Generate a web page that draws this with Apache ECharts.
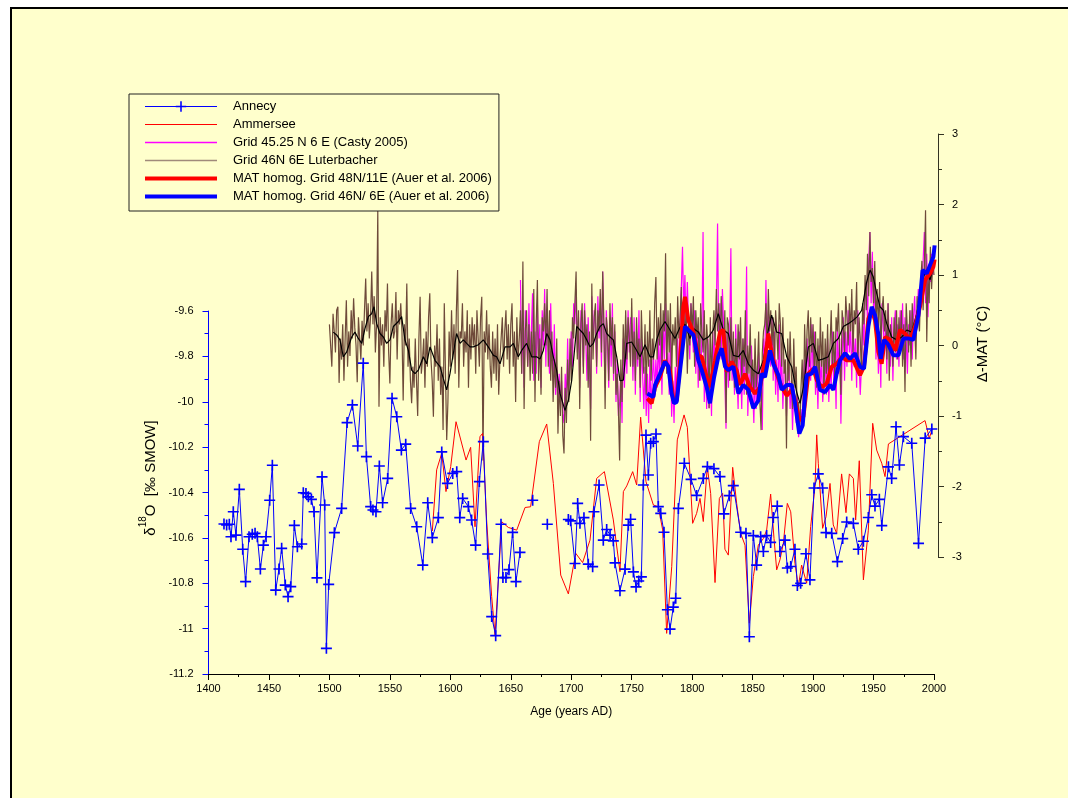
<!DOCTYPE html>
<html><head><meta charset="utf-8">
<script src="https://cdn.jsdelivr.net/npm/echarts@6/dist/echarts.min.js"></script>
<style>
html,body{margin:0;padding:0;background:#fff;width:1068px;height:798px;overflow:hidden}
#frame{position:absolute;left:10px;top:7px;width:1100px;height:820px;border-left:2px solid #000;border-top:2px solid #000;background:#FFFFCC}
#chart{position:absolute;left:0;top:0;width:1068px;height:798px}
</style></head>
<body><div id="frame"></div><div id="chart"></div>
<script>
// ---------- DATA ----------
// Annecy d18O (left axis); null = gap
const annecyYears = [1412.8,1415.0,1417.2,1418.6,1420.5,1422.7,1425.5,1428.3,1430.7,1433.5,1436.2,1438.5,1440.4,1442.9,1445.4,1447.6,1450.6,1452.8,1455.6,1458.3,1460.5,1463.5,1465.8,1468.0,1471.0,1473.5,1477.1,1478.4,1480.6,1482.6,1485.1,1487.3,1489.7,1493.9,1496.1,1497.5,1499.4,1504.1,1510.1,1514.6,1519.0,1523.4,1528.0,1530.6,1534.1,1536.0,1538.5,1541.3,1544.0,1548.2,1551.8,1555.7,1559.5,1563.1,1567.2,1572.2,1577.2,1581.3,1585.1,1590.1,1592.9,1597.6,1602.0,1605.3,1607.8,1610.2,1614.9,1617.6,1620.9,1624.0,1627.3,1630.9,1634.2,1637.5,1641.9,1643.5,1646.0,1648.5,1651.5,1654.3,1657.6,1663,1668.1,1674,1680.2,1689,1697.6,1699.5,1703.1,1705.3,1707.2,1710.5,1714.1,1717.7,1718.8,1723.0,1726.5,1729.3,1732.1,1734.8,1736.2,1740.3,1744.5,1747.2,1749.1,1751.4,1753.6,1755.8,1758.0,1759.6,1761.8,1763.8,1765.7,1767.9,1770.1,1772.0,1774.0,1776.7,1779.5,1781.7,1784.4,1786.4,1788.6,1793.5,1799.1,1803.7,1809.2,1812.6,1818.0,1823.0,1826.3,1830.7,1834.0,1840.1,1844.5,1847.3,1850.6,1853.3,1856.6,1858.9,1861.6,1864.9,1867.1,1870.4,1872.6,1876.8,1878.7,1881.5,1885.0,1887.0,1889.7,1894.1,1897.4,1900.8,1904.3,1907.9,1910.7,1915.4,1920.1,1924.5,1927.8,1933.3,1937.4,1941.6,1945.7,1948.5,1951.2,1954.8,1956.8,1962.3,1965.0,1968.6,1971.4,1974.7,1981.6,1987.2,1992.7,1998.2];
const annecyVals = [-10.539,-10.543,-10.54,-10.595,-10.485,-10.588,-10.386,-10.65,-10.793,-10.595,-10.584,-10.58,-10.595,-10.737,-10.632,-10.595,-10.434,-10.28,-10.83,-10.737,-10.646,-10.808,-10.859,-10.815,-10.545,-10.639,-10.627,-10.401,-10.404,-10.419,-10.43,-10.485,-10.776,-10.331,-10.455,-11.087,-10.805,-10.577,-10.47,-10.092,-10.014,-10.195,-9.83,-10.242,-10.462,-10.477,-10.485,-10.283,-10.445,-10.338,-9.985,-10.066,-10.213,-10.187,-10.47,-10.551,-10.72,-10.445,-10.599,-10.511,-10.221,-10.36,-10.316,-10.308,-10.511,-10.426,-10.462,-10.521,-10.632,-10.352,-10.176,-10.671,-10.947,-11.031,-10.54,-10.775,-10.775,-10.74,-10.576,-10.793,-10.664,null,-10.434,null,-10.54,null,-10.519,-10.525,-10.713,-10.448,-10.536,-10.511,-10.716,-10.727,-10.485,-10.367,-10.61,-10.563,-10.588,-10.613,-10.71,-10.833,-10.738,-10.544,-10.518,-10.75,-10.816,-10.79,-10.772,-10.367,-10.147,-10.323,-10.183,-10.176,-10.142,-10.462,-10.492,-10.575,-10.917,-11.002,-10.905,-10.866,-10.47,-10.271,-10.342,-10.413,-10.338,-10.286,-10.295,-10.33,-10.494,-10.414,-10.37,-10.575,-10.58,-11.036,-10.59,-10.72,-10.595,-10.66,-10.59,-10.62,-10.51,-10.46,-10.66,-10.61,-10.733,-10.726,-10.65,-10.81,-10.8,-10.67,-10.785,-10.38,-10.318,-10.38,-10.577,-10.58,-10.705,-10.603,-10.53,-10.536,-10.65,-10.615,-10.51,-10.41,-10.46,-10.43,-10.546,-10.287,-10.338,-10.11,-10.279,-10.154,-10.183,-10.624,-10.16,-10.12];
// Ammersee (left axis)
const ammerseeYears = [1585.1,1588.7,1592.9,1596.4,1600.3,1604.7,1613.0,1616.8,1620.4,1624.5,1626.7,1630.0,1634.2,1637.0,1642.5,1648.0,1654.9,1661.8,1666.4,1673.6,1679.7,1685.2,1691.3,1697.6,1703.7,1709.4,1715.5,1721.0,1727.4,1734.8,1740.3,1743.1,1745.9,1750.8,1754.1,1757.4,1761.8,1767.9,1772.0,1775.6,1778.9,1783.1,1787.7,1793.3,1796.0,1800.4,1803.7,1806.5,1809.2,1812.5,1815.3,1818.9,1822.5,1825.2,1827.1,1829.9,1833.5,1836.8,1840.1,1843.7,1847.3,1850.6,1854.7,1858.9,1861.6,1864.9,1867.7,1869.9,1872.6,1875.4,1878.7,1881.5,1885.0,1887.8,1890.5,1894.7,1898.0,1901.6,1903.0,1904.3,1907.9,1910.7,1914.0,1916.7,1919.5,1923.6,1927.2,1930.0,1933.3,1935.2,1938.2,1941.6,1945.7,1949.3,1952.6,1956.8,1959.5,1962.3,1992.6,1996.1,1998.5];
const ammerseeVals = [-10.57,-10.3,-10.227,-10.396,-10.286,-10.088,-10.257,-10.201,-10.551,-10.154,-10.139,-10.521,-10.859,-11.028,-10.529,-10.554,-10.566,-10.466,-10.463,-10.176,-10.098,-10.36,-10.764,-10.847,-10.668,-10.709,-10.61,-10.338,-10.308,-10.521,-10.749,-10.396,-10.371,-10.308,-10.367,-10.068,-10.352,-10.455,-10.463,-10.565,-11.021,-10.727,-10.168,-10.058,-10.113,-10.536,-10.492,-10.426,-10.528,-10.286,-10.404,-10.797,-10.426,-10.404,-10.65,-10.676,-10.289,-10.448,-10.58,-10.632,-10.976,-10.771,-10.632,-10.603,-10.566,-10.407,-10.603,-10.741,-10.697,-10.624,-10.448,-10.485,-10.712,-10.815,-10.72,-10.8,-10.55,-10.374,-10.146,-10.271,-10.558,-10.507,-10.36,-10.543,-10.58,-10.318,-10.489,-10.318,-10.338,-10.521,-10.26,-10.785,-10.566,-10.095,-10.213,-10.271,-10.33,-10.186,-10.083,-10.161,-10.12];
// Casty 2005 grid, annual from 1658 (right axis)
const castyStart = 1658;
const castyVals = [0.93,-0.4,
0.3,-0.6,0.5,0.1,-0.3,0.6,-0.2,0.2,0.74,-0.5,
0.2,-0.4,0.6,-0.2,0.3,-0.6,0.5,0.0,0.8,-0.3,
0.5,0.0,-0.4,0.6,-0.2,-0.5,0.3,-0.7,-0.3,-0.9,
-0.4,-0.8,-0.5,-0.97,-1.1,-0.4,-0.8,0.1,-0.6,-0.2,
0.2,-0.3,0.6,0.3,0.8,-0.1,0.4,-0.6,0.5,0.2,
-0.3,0.6,0.1,-0.5,0.4,-0.2,-0.9,0.7,0.0,0.5,
0.3,-0.4,0.7,0.1,0.5,-0.3,1.05,0.2,-0.6,0.5,
0.0,-0.6,0.4,-0.3,0.6,-0.5,0.2,-0.8,-0.2,-1.0,
-0.8,-0.4,-1.1,0.1,-0.6,0.3,-0.4,0.5,-0.1,0.4,
0.3,-0.5,0.4,-0.7,0.2,-0.3,0.5,-0.8,0.1,-0.4,
-0.9,-0.3,-1.0,-0.4,-1.1,-0.2,-0.9,-0.5,-0.1,-0.7,
-0.2,-0.6,0.1,-0.5,0.2,-0.7,0.3,-0.2,0.6,-0.4,
-0.1,-0.7,0.2,-1.01,-0.5,-1.1,-0.3,-0.8,0.1,-0.4,
0.3,0.8,1.40,0.5,1.0,0.2,0.9,0.3,-0.2,0.6,
0.6,-0.1,0.5,-0.4,0.3,-0.6,0.2,-0.5,0.1,1.61,
-0.8,-0.2,-0.9,0.1,-0.89,-0.4,-1.0,0.2,-0.3,0.4,
0.5,1.73,0.0,0.6,-0.2,0.8,0.3,-0.5,-1.18,0.2,
-0.6,0.1,1.38,-0.5,0.0,-0.7,0.3,-0.4,-0.9,0.2,
-0.3,-0.9,0.1,-0.7,-0.2,1.12,-1.0,-0.4,-0.8,0.0,
-0.6,-1.1,-0.3,-0.9,-0.5,-0.1,-0.8,-0.3,-1.2,0.1,
-0.4,0.93,-0.2,0.5,0.1,-0.3,0.4,-0.5,0.2,-0.7,
-0.2,-0.8,0.3,-0.6,-0.1,-0.9,-0.4,-0.2,-1.0,-0.5,
-0.3,-0.9,-0.5,-1.2,-0.6,-0.8,-1.1,-0.7,-1.3,-1.1,
-0.9,-1.2,-0.5,-0.2,-0.6,0.1,-0.4,-0.1,-0.5,0.3,
-0.4,0.2,-0.7,-0.3,-0.9,0.0,-0.6,-0.2,-0.8,-0.4,
-0.2,-0.7,0.1,-0.8,-0.3,-0.6,0.2,-0.5,-0.1,-0.9,
0.3,-0.4,0.1,-1.11,-0.2,0.4,-0.5,0.2,-0.3,0.5,
-0.1,0.3,-0.5,0.4,-0.3,0.1,-0.6,0.5,-0.2,-0.7,
-0.3,0.4,0.0,0.7,0.9,0.3,1.2,1.61,0.6,1.33,
0.5,0.9,-0.2,0.4,-0.4,0.2,-0.6,0.6,0.3,-0.1,
0.3,-0.4,0.6,0.1,-0.3,0.4,-0.5,0.2,0.5,-0.2,
0.3,-0.3,0.5,0.0,0.6,-0.2,0.4,0.1,-0.4,0.3,
0.0,0.5,-0.2,0.4,0.7,0.1,0.3,0.8,0.4,0.6,
0.9,1.2,1.61,0.6,1.3,0.4,1.1,0.9,1.3,1.0,1.1];
// Luterbacher grid, annual from 1500 (right axis)
const lutStart = 1500;
const lutVals = [0.3,0.0,-0.3,0.45,0.2,-0.1,0.5,0.55,-0.53,0.1,
-0.2,0.3,-0.5,0.1,0.64,-0.3,0.2,-0.15,0.5,0.1,
0.67,0.25,0.0,-0.52,0.4,0.1,-0.2,0.35,0.0,0.5,
0.95,0.2,0.6,0.1,0.4,1.05,0.3,0.7,-0.1,0.3,
1.92,-0.87,0.4,0.0,0.3,-0.3,0.5,0.2,0.88,-0.1,
-0.54,0.3,0.6,0.1,0.2,0.76,-0.2,0.5,0.3,0.6,
0.2,-0.78,0.3,0.0,0.88,-0.3,0.1,-0.5,-0.82,-0.3,
-0.6,0.1,-0.5,-1.0,0.1,0.69,-0.4,-0.2,0.1,-0.6,
0.2,-0.3,0.4,0.74,-0.2,-0.5,-1.01,0.0,-0.3,0.3,
-0.5,0.1,-0.7,-0.3,-1.2,0.6,-0.4,-1.34,-0.8,0.2,
-0.3,0.5,-0.2,0.3,-0.4,0.5,1.07,-0.6,0.2,0.1,
0.6,-0.3,0.2,-0.1,0.5,-0.6,0.3,-0.2,0.4,0.0,
0.3,-0.4,0.5,0.1,-0.3,0.4,0.69,-1.63,0.2,-0.1,
0.5,-0.2,0.3,-0.3,-0.6,0.2,-0.4,0.1,-0.5,0.3,
-0.7,-0.2,0.1,0.4,-0.3,0.2,0.5,-0.2,0.3,-0.4,
0.3,0.6,-0.3,0.2,-0.8,0.4,-0.2,0.1,0.5,-0.4,
1.19,-0.9,0.2,0.5,-0.3,0.3,-0.5,0.2,-0.4,0.8,
-0.8,0.3,0.93,-0.5,0.1,-0.7,0.4,0.2,0.6,0.0,
0.8,-0.3,0.5,-0.5,0.2,-0.8,-0.2,-0.6,0.1,-1.25,
-0.5,-1.0,-0.3,-1.28,-1.53,-0.6,-1.1,-0.2,-0.8,0.1,
-0.5,0.4,0.1,0.6,1.05,-0.2,0.5,-0.9,0.3,0.6,
-0.4,0.5,0.0,0.3,-0.6,0.2,-1.35,0.88,-0.2,0.4,
0.6,-0.3,0.5,0.2,0.8,-0.1,1.05,0.3,-0.9,0.4,
0.2,-0.5,0.6,0.0,0.4,-0.4,0.3,-0.7,-0.4,-0.9,
-1.63,-0.2,-0.8,0.3,-0.3,0.5,-0.2,0.4,0.1,-0.3,
0.67,-0.3,0.2,-0.5,0.4,-0.2,0.1,-0.6,0.5,-0.1,
-0.4,0.3,-0.7,0.2,-0.3,0.5,-0.5,0.1,-0.2,0.6,
0.97,-0.2,0.4,0.0,0.6,-0.3,0.5,0.2,1.31,-0.4,
0.5,-0.1,0.6,-0.5,0.3,0.0,0.4,-0.3,0.7,0.1,
0.4,0.83,-0.2,0.6,0.1,0.5,-0.4,0.3,0.0,0.6,
0.2,0.7,-0.3,0.5,0.1,0.4,-0.5,0.6,0.2,-0.1,
0.5,-0.4,0.3,0.0,-0.89,0.4,-0.6,0.2,0.5,0.0,
0.8,0.2,0.6,-0.1,0.7,0.3,-0.2,0.5,-1.1,0.4,
0.3,-0.5,0.4,-0.3,0.2,-0.6,0.1,-0.4,0.3,-0.2,
0.4,-0.5,0.1,-0.3,0.5,-0.7,0.0,-0.4,0.3,-0.6,
-0.2,-0.7,0.1,-0.6,-0.3,0.2,-0.8,-1.2,-0.1,0.2,
0.3,0.6,-0.1,0.8,0.2,0.5,0.0,0.4,-0.3,0.5,
0.2,-0.2,0.6,0.3,-0.3,0.4,-0.4,-0.2,-1.46,0.1,
-0.5,0.2,-0.4,-0.9,0.1,-0.6,-0.3,-1.0,-0.8,-1.25,
-0.6,-0.2,-0.9,0.3,-0.4,0.2,0.5,-0.3,0.4,-0.1,
0.3,-0.4,0.2,-0.6,0.1,-0.5,0.4,-0.3,0.2,-0.7,
0.1,-0.4,0.3,-0.6,0.0,0.5,-0.3,0.2,-0.5,0.4,
0.2,0.6,-0.2,-0.7,0.5,0.3,-0.1,0.7,0.4,0.0,
0.6,0.2,0.8,-0.1,0.5,0.3,0.9,-0.3,0.4,0.1,
-0.4,0.6,0.3,1.0,0.5,1.3,0.7,1.61,0.9,1.1,
0.6,1.2,0.3,0.8,0.2,0.9,-0.1,0.5,0.7,0.2,
0.5,-0.2,0.6,-0.5,0.3,0.1,-0.3,0.4,-0.1,0.5,
-0.2,0.4,0.0,0.5,-0.3,0.3,-0.66,0.6,0.2,-0.1,
0.5,-0.3,0.6,0.1,0.3,-0.2,0.7,0.4,0.2,0.9,
1.2,0.5,1.1,1.92,0.05,1.0,0.6,1.4,0.8,1.2,1.0];
// smoothed Luterbacher (black, right axis)
const smoothLut = [[1503.2,0.19],[1506,0.15],[1508.7,0.08],[1511.5,-0.16],[1514.3,-0.09],[1518.4,0.12],[1521.1,0.19],[1523.9,0.1],[1526.7,0.03],[1529.4,0.24],[1532.2,0.41],[1534.9,0.45],[1536.9,0.55],[1539.1,0.31],[1541.8,0.17],[1544.6,0.12],[1547.3,0.03],[1550.1,0.08],[1552.9,0.27],[1557,0.34],[1559.7,0.41],[1562.5,0.08],[1565.3,-0.07],[1568,-0.35],[1570.8,-0.4],[1573.5,-0.35],[1577.7,-0.16],[1580.4,-0.26],[1583.2,-0.02],[1587.3,-0.21],[1591.5,-0.3],[1594.2,-0.47],[1597,-0.63],[1599.7,-0.4],[1602.5,-0.11],[1605.2,0.17],[1608,0.03],[1610.8,0.08],[1613.5,0.03],[1616.3,-0.02],[1619,-0.02],[1623.2,0.01],[1627.3,0.08],[1631.4,-0.02],[1635.6,-0.14],[1638.3,-0.16],[1641.1,-0.26],[1645.2,-0.02],[1649.4,-0.02],[1652.1,0.03],[1656.2,-0.16],[1659,-0.07],[1663.1,0.03],[1667.3,-0.16],[1671.4,-0.16],[1674.2,-0.19],[1676.9,-0.07],[1679.7,0.17],[1682.4,0.08],[1685.2,-0.16],[1687.9,-0.35],[1690.7,-0.68],[1694.8,-0.92],[1697.6,-0.78],[1700.4,-0.49],[1704.5,0.27],[1707.2,0.22],[1710,0.17],[1712.8,0.08],[1715.5,-0.02],[1718.3,0.03],[1721,0.17],[1723.8,0.27],[1726.5,0.31],[1729.3,0.17],[1732.1,0.12],[1734.8,0.08],[1737.6,-0.16],[1740.3,-0.5],[1743.1,-0.49],[1745.8,0.03],[1750,0.05],[1754.1,-0.07],[1756.9,-0.16],[1761,0.01],[1765.1,-0.16],[1767.9,-0.16],[1770.6,0.08],[1773.4,0.22],[1777.5,0.34],[1781.7,0.22],[1785.8,0.1],[1789.9,0.26],[1794.1,0.3],[1798.2,0.1],[1801,0.24],[1805.1,0.19],[1809.2,0.08],[1813.4,0.12],[1817.5,0.22],[1821.6,0.45],[1825.8,0.22],[1829.9,0.17],[1834,-0.14],[1838.2,-0.16],[1842.3,-0.07],[1846.4,-0.26],[1850.6,-0.35],[1854.7,-0.4],[1858.9,-0.21],[1863,0.22],[1865.7,0.43],[1869.9,0.19],[1874,0.17],[1878.2,-0.16],[1882.3,-0.3],[1886.4,-0.66],[1889.2,-0.82],[1892,-0.59],[1896.1,-0.02],[1900.2,0.03],[1904.3,-0.21],[1908.5,-0.19],[1912.6,-0.16],[1916.8,0.03],[1920.9,0.1],[1925,0.27],[1929.2,0.31],[1933.3,0.36],[1936.6,0.41],[1940.2,0.5],[1944.3,0.9],[1947.1,1.07],[1949.8,0.97],[1952.6,0.74],[1955.3,0.55],[1958.1,0.5],[1960.9,0.31],[1965,0.12],[1969.1,0.08],[1973.3,0.12],[1977.4,0.22],[1981.5,0.19],[1985.7,0.45],[1988.4,0.69],[1991.2,0.97],[1993.9,1.07],[1996.7,0.93],[1999.5,1.12]];
// MAT homogenised (Auer et al. 2006), right axis
const mat48 = [[1762.9,-0.75],[1766.5,-0.82],[1769.3,-0.59],[1773.4,-0.45],[1777.5,-0.21],[1781.7,-0.35],[1784.4,-0.78],[1787.2,-0.78],[1790,-0.21],[1792.7,0.55],[1794.1,0.69],[1796.8,0.36],[1801,0.19],[1805.1,-0.14],[1807.9,-0.16],[1812,-0.45],[1814.7,-0.59],[1818.9,-0.21],[1823,0.19],[1825.8,0.22],[1828.5,-0.37],[1832.7,-0.23],[1836.8,-0.35],[1839.6,-0.56],[1843.7,-0.4],[1847.8,-0.59],[1852,-0.68],[1856.1,-0.59],[1860.2,-0.21],[1863,0.17],[1865.8,-0.11],[1869.9,-0.4],[1874,-0.59],[1878.2,-0.71],[1882.3,-0.63],[1885.1,-0.78],[1888.6,-1.06],[1892,-1.01],[1896.1,-0.4],[1900.2,-0.33],[1903,-0.49],[1907.1,-0.59],[1911.2,-0.54],[1915.4,-0.3],[1919.5,-0.26],[1923.7,-0.16],[1927.8,-0.21],[1933.3,-0.21],[1938.8,-0.42],[1942.1,-0.3],[1945.7,0.38],[1948.5,0.5],[1951.2,0.36],[1954,-0.09],[1956.7,-0.26],[1959.5,0.12],[1963.6,0.08],[1967.8,-0.07],[1971.9,0.22],[1976,0.17],[1980.2,0.08],[1984.3,0.27],[1988.4,0.55],[1992.6,0.93],[1996.7,1.02],[1999.5,1.12],[2000.5,1.22]];
const mat46 = [[1762.9,-0.68],[1767.9,-0.73],[1769.3,-0.56],[1773.4,-0.4],[1777.5,-0.23],[1780.3,-0.3],[1783,-0.68],[1785,-0.82],[1787.2,-0.8],[1790,-0.35],[1794.1,0.27],[1796.8,0.22],[1801,0.15],[1805.1,-0.21],[1807.9,-0.35],[1812,-0.59],[1814.7,-0.82],[1818.1,-0.45],[1821.6,-0.16],[1824.4,-0.04],[1827.2,-0.3],[1829.9,-0.35],[1834,-0.3],[1838.2,-0.68],[1842.3,-0.56],[1846.5,-0.63],[1850.6,-0.89],[1854.7,-0.78],[1857.5,-0.4],[1860.2,-0.45],[1864.4,-0.07],[1867.1,-0.26],[1871.3,-0.42],[1874,-0.63],[1878.2,-0.56],[1882.3,-0.56],[1885.1,-0.82],[1888.6,-1.25],[1891.4,-1.13],[1894.7,-0.42],[1898.8,-0.4],[1901.6,-0.3],[1905.7,-0.63],[1909.9,-0.66],[1914,-0.56],[1916.8,-0.63],[1919.5,-0.4],[1922.3,-0.21],[1926.4,-0.11],[1930.5,-0.19],[1934.7,-0.11],[1938.8,-0.3],[1942.1,-0.33],[1945.7,0.27],[1948.5,0.55],[1951.2,0.43],[1954,0.15],[1955.9,-0.19],[1958.7,0.08],[1962.3,0.01],[1966.4,-0.14],[1970.5,-0.14],[1974.7,0.1],[1978.8,0.1],[1982.9,0.08],[1987.1,0.43],[1990.6,1.07],[1994,1.02],[1996.7,1.14],[1999.5,1.26],[2000.5,1.42]];
// axis ticks
const xTicks = {min:1400, max:2000, step:50};
const leftTicks = {min:-11.2, max:-9.6, step:0.2};
const rightTicks = {min:-3, max:3, step:1};
const names = ['Annecy','Ammersee','Grid 45.25 N 6 E (Casty 2005)','Grid 46N 6E Luterbacher','MAT homog. Grid 48N/11E (Auer et al. 2006)','MAT homog. Grid 46N/ 6E (Auer et al. 2006)'];

// ---------- BUILD ----------
const F = "'Liberation Sans', Arial, sans-serif";
const pairs = (ys, vs) => ys.map((y, i) => [y, vs[i] === null ? '-' : vs[i]]);
const annual = (start, vs) => vs.map((v, i) => [start + i, v]);
const cross = 'path://M0,8.5H20V11.5H0Z M8.5,0H11.5V20H8.5Z';
const legendWidths = [1, 1, 1.5, 1.5, 4, 4];
const legendColors = ['#0000FF', '#FF0000', '#FF00FF', '#A08A7A', '#FF0000', '#0000FF'];

const chart = echarts.init(document.getElementById('chart'), null, {renderer:'canvas'});
chart.setOption({
  animation:false,
  backgroundColor:'transparent',
  textStyle:{fontFamily:F},
  grid:[
    {left:208.5, right:134, top:311, bottom:124},
    {left:208.5, right:130, top:134, bottom:241}
  ],
  xAxis:[
    {gridIndex:0, type:'value', min:xTicks.min, max:xTicks.max, interval:xTicks.step,
     axisLine:{lineStyle:{color:'#000', width:1}}, axisTick:{length:6, lineStyle:{color:'#000'}},
     minorTick:{show:true, splitNumber:2, length:3, lineStyle:{color:'#000'}},
     axisLabel:{fontSize:11, color:'#000', margin:9, fontFamily:F, formatter:v => String(v)}, splitLine:{show:false},
     name:'Age (years AD)', nameLocation:'middle', nameGap:32, nameTextStyle:{fontSize:12, color:'#000', fontFamily:F}},
    {gridIndex:1, type:'value', min:1400, max:2003.3, show:false, splitLine:{show:false}}
  ],
  yAxis:[
    {gridIndex:0, type:'value', position:'left', min:leftTicks.min, max:leftTicks.max, interval:leftTicks.step,
     axisLine:{show:true, lineStyle:{color:'#0000FF', width:1}}, axisTick:{show:true, length:6, lineStyle:{color:'#0000FF'}},
     minorTick:{show:true, splitNumber:2, length:4, lineStyle:{color:'#0000FF'}},
     axisLabel:{fontSize:11, color:'#000', margin:15, fontFamily:F, formatter:v => String(+(+v).toFixed(1))},
     splitLine:{show:false}},
    {gridIndex:1, type:'value', position:'right', min:rightTicks.min, max:rightTicks.max, interval:rightTicks.step,
     axisLine:{show:true, lineStyle:{color:'#333322', width:1}}, axisTick:{show:true, length:6, lineStyle:{color:'#333322'}},
     minorTick:{show:true, splitNumber:2, length:4, lineStyle:{color:'#333322'}},
     axisLabel:{fontSize:11, color:'#000', margin:14, fontFamily:F},
     splitLine:{show:false}}
  ],
  legend:{
    data:names.map((n, i) => i === 0
      ? {name:n, lineStyle:{width:legendWidths[i], color:legendColors[i]}}
      : {name:n, itemStyle:{opacity:0}, lineStyle:{width:legendWidths[i], color:legendColors[i]}}),
    orient:'vertical', left:129, top:94,
    padding:[6,7,8,14], itemGap:5, itemWidth:72, itemHeight:13,
    backgroundColor:'#FFFFCC', borderColor:'#222', borderWidth:1, borderRadius:0,
    textStyle:{fontSize:13, color:'#000', fontFamily:F, padding:[0,0,0,11]},
    selectedMode:false
  },
  graphic:[
    {type:'text', x:148, y:478, rotation:Math.PI/2,
     style:{text:'{a|δ}{s|18}{a|O  [‰ SMOW]}', align:'center', verticalAlign:'middle',
            rich:{a:{fontSize:15, fontFamily:F, fill:'#000', lineHeight:20, verticalAlign:'bottom'},
                  s:{fontSize:10, fontFamily:F, fill:'#000', lineHeight:20, verticalAlign:'top'}}}},
    {type:'text', x:983, y:344, rotation:Math.PI/2,
     style:{text:'Δ-MAT (°C)', align:'center', verticalAlign:'middle', fontSize:15, fontFamily:F, fill:'#000'}}
  ],
  series:[
    {name:names[0], type:'line', xAxisIndex:0, yAxisIndex:0, data:pairs(annecyYears, annecyVals),
     symbol:cross, symbolSize:11, showSymbol:true, showAllSymbol:true, connectNulls:false,
     lineStyle:{color:'#0000FF', width:1}, itemStyle:{color:'#0000FF'}, z:4},
    {name:names[1], type:'line', xAxisIndex:0, yAxisIndex:0, data:pairs(ammerseeYears, ammerseeVals),
     symbol:'none', lineStyle:{color:'#FF0000', width:1}, itemStyle:{color:'#FF0000'}, z:3},
    {name:names[2], type:'line', xAxisIndex:1, yAxisIndex:1, data:annual(castyStart, castyVals),
     symbol:'none', lineStyle:{color:'#FF00FF', width:1.2}, itemStyle:{color:'#FF00FF'}, z:2},
    {name:names[3], type:'line', xAxisIndex:1, yAxisIndex:1, data:annual(lutStart, lutVals),
     symbol:'none', lineStyle:{color:'#6E4A3A', width:1.2}, itemStyle:{color:'#9C8474'}, z:2},
    {name:'smoothed', type:'line', xAxisIndex:1, yAxisIndex:1, data:smoothLut,
     symbol:'none', lineStyle:{color:'#000000', width:1.2}, itemStyle:{color:'#000'}, z:3},
    {name:names[4], type:'line', xAxisIndex:1, yAxisIndex:1, data:mat48,
     symbol:'none', lineStyle:{color:'#FF0000', width:4}, itemStyle:{color:'#FF0000'}, z:4},
    {name:names[5], type:'line', xAxisIndex:1, yAxisIndex:1, data:mat46,
     symbol:'none', lineStyle:{color:'#0000FF', width:4}, itemStyle:{color:'#0000FF'}, z:5}
  ]
});
</script>
</body></html>
